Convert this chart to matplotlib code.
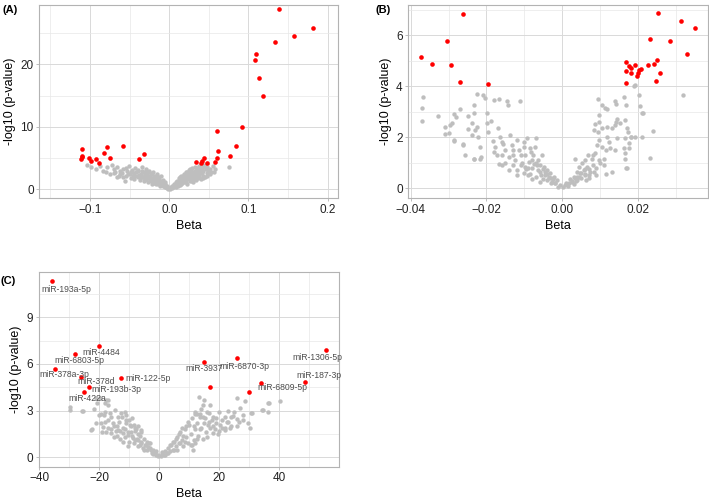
import matplotlib
matplotlib.use("Agg")
import matplotlib.pyplot as plt
import numpy as np

plt.rcParams['font.family'] = ['Liberation Sans', 'DejaVu Sans']

# ---- panel A data ----
a_gray_x = [-0.104, -0.099, -0.092, -0.088, -0.084, -0.078, -0.075, -0.072, -0.070, -0.068,
            -0.066, -0.064, -0.062, -0.060, -0.058, -0.056, -0.055, -0.053, -0.051, -0.050,
            -0.048, -0.047, -0.045, -0.044, -0.043, -0.041, -0.040, -0.039, -0.037, -0.036,
            -0.035, -0.034, -0.033, -0.032, -0.031, -0.030, -0.029, -0.028, -0.027, -0.026,
            -0.025, -0.024, -0.023, -0.022, -0.021, -0.020, -0.019, -0.018, -0.017, -0.016,
            -0.015, -0.014, -0.013, -0.012, -0.011, -0.010, -0.009, -0.008, -0.007, -0.006,
            -0.005, -0.004, -0.003, -0.002, -0.001, -0.018, -0.021, -0.024, -0.027, -0.030,
            -0.015, -0.012, -0.009, -0.006, -0.033, -0.038, -0.042, -0.046, -0.052,
            -0.003, -0.005, -0.007, -0.008, -0.010, -0.011, -0.013, -0.014, -0.016, -0.017,
            -0.019, -0.020, -0.022, -0.023, -0.025, -0.026, -0.028, -0.029, -0.031, -0.034,
            -0.036, -0.040, -0.044, -0.048, -0.054, -0.058, -0.062, -0.066, -0.070, -0.080,
            0.001, 0.002, 0.003, 0.004, 0.005, 0.006, 0.007, 0.008, 0.009, 0.010,
            0.011, 0.012, 0.013, 0.014, 0.015, 0.016, 0.017, 0.018, 0.019, 0.020,
            0.021, 0.022, 0.023, 0.024, 0.025, 0.026, 0.027, 0.028, 0.029, 0.030,
            0.031, 0.032, 0.033, 0.034, 0.035, 0.036, 0.037, 0.038, 0.039, 0.040,
            0.041, 0.042, 0.043, 0.044, 0.045, 0.046, 0.047, 0.048, 0.050, 0.052,
            0.055, 0.057, 0.058, 0.076, 0.012, 0.016, 0.019, 0.022, 0.025, 0.028,
            0.031, 0.034, 0.037, 0.040, 0.010, 0.014, 0.018, 0.024, 0.029, 0.035,
            0.005, 0.008, 0.011, 0.013, 0.015, 0.017, 0.020, 0.021, 0.023, 0.026,
            0.027, 0.029, 0.030, 0.032, 0.033, 0.035, 0.036, 0.038, 0.039, 0.041,
            0.042, 0.043, 0.045, 0.047, 0.049, 0.051, 0.053, 0.026, 0.032, 0.037]
a_gray_y = [3.9, 3.6, 3.3, 3.7, 3.0, 3.5, 2.5, 3.9, 3.2, 2.8,
            3.6, 2.2, 3.0, 2.6, 3.3, 1.4, 2.1, 2.9, 3.7, 2.4,
            1.8, 3.1, 2.6, 1.6, 3.4, 2.2, 1.9, 2.9, 1.5, 2.5,
            3.6, 1.9, 2.8, 1.3, 2.3, 3.2, 1.7, 2.6, 1.1, 2.0,
            3.0, 1.5, 2.4, 0.9, 1.8, 2.8, 1.3, 2.2, 0.8, 1.6,
            2.5, 1.1, 1.9, 0.6, 1.4, 2.1, 0.9, 1.5, 0.5, 1.1,
            0.7, 0.4, 0.6, 0.2, 0.1, 1.0, 1.4, 2.0, 2.2, 2.5,
            1.8, 1.2, 1.2, 0.8, 2.0, 2.3, 2.7, 2.1, 2.5,
            0.2, 0.3, 0.9, 0.6, 1.2, 0.7, 1.5, 0.8, 2.0, 1.3,
            1.9, 1.0, 2.5, 1.3, 2.0, 2.7, 1.8, 2.9, 1.6, 3.0,
            2.0, 3.1, 2.2, 2.8, 3.4, 2.0, 2.4, 1.9, 2.6, 2.8,
            0.1, 0.3, 0.15, 0.5, 0.3, 0.8, 0.5, 1.1, 0.6, 1.4,
            0.9, 1.8, 0.7, 1.3, 2.1, 1.0, 1.7, 2.5, 1.2, 2.0,
            2.8, 0.9, 1.6, 2.4, 3.1, 1.3, 2.0, 2.9, 3.4, 1.1,
            1.8, 2.6, 3.6, 1.5, 2.3, 3.1, 1.9, 3.8, 2.7, 1.6,
            3.4, 2.2, 2.9, 3.9, 2.0, 3.2, 2.6, 3.6, 2.9, 3.3,
            3.8, 2.8, 3.2, 3.6, 1.2, 1.5, 1.9, 2.2, 2.0, 2.4,
            2.2, 2.9, 2.5, 2.8, 0.9, 1.9, 1.4, 1.8, 2.6, 3.0,
            0.6, 0.4, 0.5, 1.5, 0.9, 2.2, 1.5, 1.1, 2.7, 2.5,
            1.6, 1.4, 2.8, 2.0, 1.6, 3.3, 1.8, 2.3, 3.2, 2.6,
            3.7, 1.8, 3.5, 2.2, 3.0, 2.4, 2.8, 3.3, 3.0, 3.5]
a_red_x = [0.139, 0.182, 0.157, 0.133, 0.110, 0.108, 0.113, 0.118, 0.0916, 0.060,
           0.084, 0.0616, 0.0608, 0.0772, 0.0578, 0.0435, 0.041, 0.040, 0.0333, 0.047,
           -0.1097, -0.1097, -0.112, -0.110, -0.101, -0.099, -0.093, -0.089, -0.083, -0.079,
           -0.075, -0.058, -0.038, -0.032]
a_red_y = [28.8, 25.9, 24.5, 23.6, 21.6, 20.7, 17.8, 14.9, 10.0, 9.4,
           7.0, 6.2, 5.0, 5.3, 4.4, 5.0, 4.6, 4.2, 4.3, 4.2,
           6.45, 5.4, 4.9, 5.2, 5.0, 4.6, 4.8, 4.2, 5.8, 6.8,
           5.0, 7.0, 4.9, 5.7]

# ---- panel B data ----
b_gray_x = [-0.0366, -0.0371, -0.0369, -0.0329, -0.0309, -0.0300, -0.0296, -0.0292, -0.0285, -0.0281,
            -0.0285, -0.0269, -0.0261, -0.0256, -0.0248, -0.0239, -0.0234, -0.0232, -0.0225, -0.0239,
            -0.0248, -0.0234, -0.0230, -0.0225, -0.0221, -0.0217, -0.0214, -0.0208, -0.0205, -0.0199,
            -0.0199, -0.0195, -0.0188, -0.0181, -0.0166, -0.0184, -0.0177, -0.0170, -0.0164, -0.0159,
            -0.0181, -0.0173, -0.0168, -0.0157, -0.0151, -0.0146, -0.0142, -0.0137, -0.0133, -0.0131,
            -0.0124, -0.0120, -0.0115, -0.0111, -0.0102, -0.0098, -0.0098, -0.0093, -0.0089, -0.0085,
            -0.0080, -0.0076, -0.0071, -0.0069, -0.0067, -0.0063, -0.0058, -0.0054, -0.0049, -0.0045,
            -0.0040, -0.0036, -0.0032, -0.0027, -0.0023, -0.0018, -0.0014, -0.0010, -0.0005,
            -0.0310, -0.0285, -0.0262, -0.0234, -0.0217, -0.0120, -0.0110, -0.0100, -0.0090, -0.0080,
            -0.0070, -0.0060, -0.0050, -0.0040, -0.0030, -0.0130, -0.0150, -0.0160, -0.0140, -0.0105,
            -0.0095, -0.0085, -0.0075, -0.0065, -0.0055, -0.0045, -0.0035, -0.0025,
            -0.0120, -0.0110, -0.0090, -0.0080, -0.0070, -0.0060, -0.0050, -0.0040, -0.0030, -0.0020,
            -0.0130, -0.0140, -0.0160, -0.0100, -0.0082,
            0.00934, 0.0105, 0.0112, 0.0118, 0.0138, 0.0142, 0.0162, 0.0168, 0.0193, 0.0202,
            0.0204, 0.0212, 0.0319, 0.0096, 0.0096, 0.0085, 0.0083, 0.0094, 0.0105, 0.0118,
            0.0131, 0.0138, 0.0145, 0.0142, 0.0153, 0.0166, 0.0171, 0.0174, 0.0118, 0.0122,
            0.0145, 0.0165, 0.0180, 0.0193, 0.0175, 0.0239, 0.0230, 0.0096, 0.0092, 0.0105,
            0.0114, 0.0127, 0.0138, 0.0162, 0.0166, 0.0166, 0.0168, 0.0085, 0.0078, 0.0096,
            0.0109, 0.0109, 0.0131, 0.0114, 0.0069, 0.0061, 0.0052, 0.0034, 0.0043, 0.0065,
            0.0074, 0.0083, 0.0059, 0.0047, 0.0034, 0.0026, 0.0017, 0.0008, 0.0002, 0.0038,
            0.0030, 0.0056, 0.0070, 0.0190, 0.0210, 0.0210, 0.0180, 0.0175, 0.0171, 0.0040,
            0.0050, 0.0060, 0.0070, 0.0080, 0.0025, 0.0035, 0.0045, 0.0015, 0.0090, 0.0100,
            0.0010, 0.0020, 0.0030, 0.0040, 0.0050, 0.0060, 0.0070, 0.0080, 0.0062, 0.0090]
b_gray_y = [3.56, 3.15, 2.65, 2.82, 2.40, 2.18, 2.47, 2.54, 2.89, 2.80,
            1.88, 3.09, 1.71, 1.29, 2.84, 2.54, 2.93, 3.25, 3.71, 2.08,
            2.31, 1.16, 2.27, 2.40, 2.01, 1.62, 1.23, 3.65, 3.54, 2.93,
            2.54, 2.21, 2.63, 3.45, 3.49, 1.84, 1.62, 2.34, 1.99, 1.82,
            1.42, 1.29, 0.93, 1.72, 1.49, 3.41, 3.25, 2.08, 1.69, 1.29,
            1.10, 1.88, 1.49, 3.41, 1.82, 1.29, 0.84, 1.95, 1.03, 1.56,
            0.77, 1.29, 1.62, 1.95, 0.90, 1.10, 0.64, 1.29, 0.84, 0.51,
            0.71, 0.38, 0.60, 0.25, 0.45, 0.18, 0.30, 0.05, 0.12,
            2.12, 1.85, 1.72, 1.14, 1.16, 0.70, 0.90, 0.60, 0.50, 1.10,
            0.45, 0.90, 0.35, 0.30, 0.20, 0.90, 1.00, 1.30, 1.20, 1.00,
            0.75, 0.55, 0.95, 0.70, 0.50, 0.65, 0.45, 0.35,
            0.50, 1.30, 0.80, 0.35, 1.00, 0.25, 0.75, 0.55, 0.40, 0.20,
            1.50, 0.70, 0.90, 1.60, 1.40,
            3.50, 3.25, 3.13, 3.09, 3.41, 3.32, 3.58, 3.28, 4.04, 3.67,
            3.22, 2.93, 3.65, 2.86, 2.60, 2.50, 2.27, 2.21, 2.34, 2.40,
            2.34, 2.47, 2.73, 2.60, 2.54, 2.67, 2.34, 2.21, 2.01, 1.82,
            1.97, 1.97, 2.01, 1.99, 1.75, 2.24, 1.19, 1.88, 1.69, 1.62,
            1.49, 1.56, 1.49, 1.58, 1.36, 1.16, 0.80, 1.36, 1.16, 1.10,
            1.16, 0.90, 0.64, 0.54, 1.29, 1.10, 0.97, 1.16, 0.84, 0.84,
            0.64, 0.64, 0.51, 0.60, 0.38, 0.27, 0.18, 0.12, 0.05, 0.64,
            0.45, 0.70, 0.75, 4.00, 2.01, 2.93, 2.01, 1.56, 0.77, 0.30,
            0.40, 0.55, 0.50, 0.90, 0.22, 0.28, 0.42, 0.10, 0.80, 1.00,
            0.20, 0.35, 0.15, 0.45, 0.60, 0.75, 0.40, 1.30, 0.30, 0.50]
b_red_x = [-0.0373, -0.0344, -0.0304, -0.0294, -0.0261, -0.0269, -0.0197,
           0.0253, 0.0313, 0.0351, 0.0230, 0.0285, 0.0328, 0.0169, 0.0177, 0.0180,
           0.0191, 0.0225, 0.0243, 0.0251, 0.0168, 0.0182, 0.0202, 0.0208, 0.0200,
           0.0196, 0.0257, 0.0169, 0.0246]
b_red_y = [5.15, 4.89, 5.79, 4.82, 6.84, 4.17, 4.08,
           6.86, 6.57, 6.27, 5.84, 5.76, 5.28, 4.95, 4.78, 4.72,
           4.82, 4.82, 4.89, 5.02, 4.59, 4.50, 4.63, 4.67, 4.52,
           4.42, 4.50, 4.13, 4.20]

# ---- panel C data ----
c_gray_x = [-29.9, -25.7, -22.7, -21.0, -17.7, -17.1, -18.2, -16.5, -19.3, -18.8,
            -17.1, -15.4, -14.9, -13.8, -12.7, -11.5, -11.0, -9.9, -8.2, -7.9,
            -6.0, -17.7, -16.0, -13.8, -12.1, -10.4, -8.8, -7.1, -6.0, -4.9,
            -3.8, -2.7, -1.6, -0.4, -29.8, -25.5, -21.8, -22.5, -17.0, -18.0,
            -20.9, -19.8, -19.5, -18.5,
            -12.0, -11.5, -11.0, -10.5, -10.0, -9.5, -9.0, -8.5, -8.0, -7.5,
            -7.0, -6.5, -6.0, -5.5, -5.0, -4.5, -4.0, -3.5, -3.0, -2.5,
            -2.0, -1.5, -1.0, -0.5, -13.0, -14.0, -15.0, -16.0, -17.0, -18.0,
            -19.0, -20.0, -21.0, -12.5, -13.5, -11.0, -9.0, -7.0, -6.0, -14.5,
            -1.0, -2.0, -3.0, -4.0, -5.0, -6.5, -8.0, -9.5, -10.0, -11.5,
            -13.0, -14.0, -15.0, -16.0, -12.0, -10.5, -8.5, -7.0,
            13.3, 14.9, 14.7, 16.9, 11.9, 12.6, 13.7, 15.2, 16.7, 18.0,
            20.0, 23.0, 26.0, 28.6, 30.8, 28.0, 26.0, 24.5, 22.5, 20.8,
            20.2, 18.9, 16.3, 29.7, 30.2, 23.6, 21.9, 18.0, 15.8, 11.9,
            11.3, 34.7, 36.3, 36.3, 40.2, 34.3, 36.7, 30.6,
            0.5, 1.0, 1.5, 2.0, 2.5, 3.0, 3.5, 4.0, 4.5, 5.0,
            5.5, 6.0, 6.5, 7.0, 7.5, 8.0, 8.5, 9.0, 9.5, 10.0,
            10.5, 11.0, 11.5, 12.0, 12.5, 13.0, 13.5, 14.0, 14.5, 15.0,
            15.5, 16.0, 17.0, 17.5, 18.5, 19.0, 19.5, 21.0, 22.0, 23.0,
            24.0, 25.0, 26.5, 27.0, 3.0, 6.0, 8.0, 9.0, 11.0, 12.0,
            14.0, 5.0, 7.0,
            1.0, 2.0, 3.5, 4.5, 5.5, 6.5, 7.5, 8.5, 9.5, 10.5,
            11.5, 12.5, 13.5, 14.5, 16.5, 18.0, 20.0, 22.0, 24.0, 26.0, 28.0]
c_gray_y = [3.25, 3.0, 1.75, 3.79, 3.68, 3.36, 2.93, 2.83, 2.19, 1.98,
            2.40, 2.19, 3.04, 2.61, 2.83, 2.93, 2.4, 2.08, 1.86, 1.8,
            1.75, 1.65, 1.54, 1.75, 1.54, 1.45, 1.22, 1.11, 0.90, 0.79,
            0.68, 0.47, 0.35, 0.15, 3.04, 3.0, 3.08, 1.80, 3.68, 3.5,
            3.51, 3.79, 2.8, 2.7,
            1.9, 1.3, 2.2, 1.6, 1.0, 2.0, 1.4, 0.9, 1.7, 1.2,
            0.7, 1.4, 1.0, 0.6, 1.2, 0.8, 0.45, 0.9, 0.6, 0.3,
            0.5, 0.25, 0.15, 0.1, 1.2, 2.0, 1.3, 2.6, 1.9, 2.3,
            1.6, 2.7, 2.2, 2.6, 2.3, 2.7, 2.5, 2.0, 1.6, 1.7,
            0.4, 0.2, 0.9, 1.0, 0.5, 0.8, 1.1, 1.6, 2.4, 1.8,
            1.7, 1.4, 2.0, 1.8, 1.0, 0.7, 2.1, 1.5,
            3.86, 3.68, 3.36, 3.36, 2.93, 2.8, 2.8, 2.51, 2.83, 2.6,
            2.93, 3.0, 3.79, 3.64, 2.83, 2.72, 2.44, 2.65, 2.29, 2.4,
            2.08, 2.2, 2.08, 2.23, 1.86, 1.86, 1.75, 1.54, 1.33, 0.90,
            0.47, 3.04, 2.93, 3.47, 3.64, 3.04, 3.51, 2.87,
            0.1, 0.2, 0.15, 0.4, 0.3, 0.6, 0.4, 0.8, 0.5, 1.0,
            0.7, 1.3, 0.9, 1.6, 1.1, 0.7, 1.8, 1.3, 0.9, 2.1,
            1.5, 2.5, 1.1, 1.8, 2.2, 1.4, 2.6, 1.9, 1.2, 2.2,
            1.6, 2.9, 1.9, 2.4, 1.8, 2.5, 1.5, 1.9, 2.6, 2.3,
            2.0, 2.9, 2.3, 3.2, 0.25, 0.5, 1.4, 2.0, 0.8, 2.8,
            3.1, 0.5, 0.9,
            0.35, 0.15, 0.8, 1.0, 1.2, 1.5, 1.9, 1.0, 2.3, 0.8,
            2.0, 1.2, 1.8, 2.6, 2.3, 2.0, 1.7, 1.9, 2.6, 2.0, 2.4]
c_red_x = [-35.9, -20.1, -28.0, -34.7, -26.1, -23.3, -25.2, -12.9,
           14.9, 25.8, 16.9, 30.0, 34.0, 55.6, 48.6]
c_red_y = [11.33, 7.17, 6.66, 5.67, 5.18, 4.52, 4.20, 5.08,
           6.15, 6.36, 4.54, 4.18, 4.75, 6.88, 4.82]
c_labels = ['miR-193a-5p', 'miR-4484', 'miR-6803-5p', 'miR-378a-3p', 'miR-378d',
            'miR-193b-3p', 'miR-422a', 'miR-122-5p', 'miR-3937', 'miR-6870-3p',
            '', '', 'miR-6809-5p', 'miR-1306-5p', 'miR-187-3p']
# label offsets in points (left edge of text, vertical centre)
c_offsets = [(-7.2, -6.3), (-11.7, -5.0), (-15.1, -5.0), (-11.5, -3.6), (-2.4, -3.6),
             (1.7, -1.7), (-11.1, -4.5), (3.8, -0.5), (-13.2, -4.8), (-12.5, -6.0),
             (0, 0), (0, 0), (-2.9, -3.2), (-24.3, -5.3), (-6.5, 4.8)]

GRAY = '#bebebe'
RED = '#ff0000'


def style_axes(ax, xlim, ylim, xmaj, xmin, ymaj, ymin, xfmt):
    ax.set_xlim(xlim)
    ax.set_ylim(ylim)
    ax.set_xticks(xmaj)
    ax.set_xticks(xmin, minor=True)
    ax.set_yticks(ymaj)
    ax.set_yticks(ymin, minor=True)
    ax.set_xticklabels([xfmt.format(v).replace('-', '\u2212') for v in xmaj])
    ax.grid(which='major', color='#d9d9d9', lw=0.7)
    ax.grid(which='minor', color='#e8e8e8', lw=0.5)
    ax.set_axisbelow(True)
    for s in ax.spines.values():
        s.set_color('#b3b3b3')
        s.set_linewidth(0.8)
    ax.tick_params(which='major', length=2.5, width=0.6, color='#b3b3b3',
                   labelsize=8.5, labelcolor='#222222', pad=1.5)
    ax.tick_params(which='minor', length=0)
    ax.set_xlabel('Beta', fontsize=9, labelpad=3)
    ax.set_ylabel('-log10 (p-value)', fontsize=9, labelpad=3)


fig = plt.figure(figsize=(7.09, 5.03), dpi=100)

# panel A
axA = fig.add_axes([0.0555, 0.6058, 0.4217, 0.3842])
axA.scatter(a_gray_x, a_gray_y, s=10, c=GRAY, linewidths=0, zorder=2)
axA.scatter(a_red_x, a_red_y, s=11, c=RED, linewidths=0, zorder=3)
style_axes(axA, (-0.164, 0.2134), (-1.44, 29.5), [-0.1, 0.0, 0.1, 0.2],
           [-0.15, -0.05, 0.05, 0.15], [0, 10, 20], [5, 15, 25], '{:.1f}')

# panel B
axB = fig.add_axes([0.5759, 0.6064, 0.4231, 0.3837])
axB.scatter(b_gray_x, b_gray_y, s=10, c=GRAY, linewidths=0, zorder=2)
axB.scatter(b_red_x, b_red_y, s=11, c=RED, linewidths=0, zorder=3)
style_axes(axB, (-0.0406, 0.0385), (-0.39, 7.19), [-0.04, -0.02, 0.0, 0.02],
           [-0.03, -0.01, 0.01, 0.03], [0, 2, 4, 6], [1, 3, 5, 7], '{:.2f}')

# panel C
axC = fig.add_axes([0.0546, 0.0722, 0.4239, 0.3864])
axC.scatter(c_gray_x, c_gray_y, s=10, c=GRAY, linewidths=0, zorder=2)
axC.scatter(c_red_x, c_red_y, s=11, c=RED, linewidths=0, zorder=3)
style_axes(axC, (-40.2, 60.0), (-0.6, 11.89), [-40, -20, 0, 20, 40],
           [-30, -10, 10, 30, 50], [0, 3, 6, 9], [1.5, 4.5, 7.5, 10.5], '{:.0f}')
for x, y, lab, off in zip(c_red_x, c_red_y, c_labels, c_offsets):
    if lab:
        axC.annotate(lab, (x, y), xytext=off, textcoords='offset points',
                     ha='left', va='center', fontsize=6.2, color='#4d4d4d', zorder=4)

# panel tags
fig.text(0.003, 0.99, '(A)', fontsize=8, fontweight='bold', va='top')
fig.text(0.530, 0.99, '(B)', fontsize=8, fontweight='bold', va='top')
fig.text(0.001, 0.452, '(C)', fontsize=8, fontweight='bold', va='top')

fig.savefig('out.png', dpi=100)
